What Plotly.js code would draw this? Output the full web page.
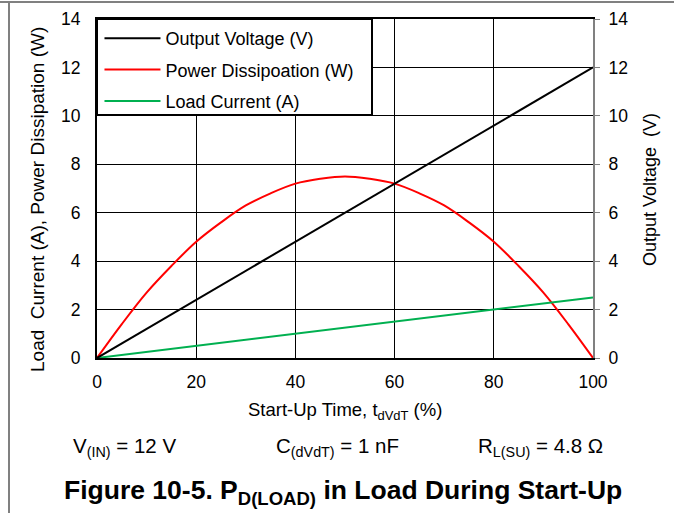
<!DOCTYPE html>
<html><head><meta charset="utf-8">
<script src="https://cdn.plot.ly/plotly-3.0.1.min.js"></script>
<style>html,body{margin:0;padding:0;background:#fff}#chart{width:674px;height:513px}</style>
</head><body><div id="chart"></div>
<script>
// Data
const timePct = [0,10,20,30,40,50,60,70,80,90,100];
const outputVoltage = [0,1.2,2.4,3.6,4.8,6.0,7.2,8.4,9.6,10.8,12.0];
const powerTime = [0,5,10,15,20,25,30,35,40,45,50,55,60,65,70,75,80,85,90,95,100];
const powerDiss = [0,1.4,2.7,3.8,4.8,5.6,6.3,6.8,7.2,7.4,7.5,7.4,7.2,6.8,6.3,5.6,4.8,3.8,2.7,1.4,0];
const currentTime = [0,20,40,60,80,100];
const loadCurrent = [0,0.5,1.0,1.5,2.0,2.5];
const seriesNames = ["Output Voltage (V)","Power Dissipoation (W)","Load Current (A)"];
const yTicks = [0,2,4,6,8,10,12,14];
const xTicks = [0,20,40,60,80,100];

const FONT = "Liberation Sans, Arial, sans-serif";
const traces = [
  {x: timePct, y: outputVoltage, name: seriesNames[0], yaxis: "y2", mode: "lines",
   line: {color: "#000000", width: 2}, legendgroup: "a"},
  {x: powerTime, y: powerDiss, name: seriesNames[1], mode: "lines",
   line: {color: "#ff0000", width: 2, shape: "spline"}, legendgroup: "b"},
  {x: currentTime, y: loadCurrent, name: seriesNames[2], mode: "lines",
   line: {color: "#00b050", width: 2}, legendgroup: "c"}
];

const px = v => (v - 97) / 496;
const py = v => (358 - v) / 339;
const ann = (text, x, y, size, extra) => Object.assign({
  text: text, xref: "paper", yref: "paper", x: px(x), y: py(y),
  xanchor: "center", yanchor: "middle", showarrow: false, font: {size: size}
}, extra || {});

const layout = {
  width: 674, height: 513,
  margin: {l: 97, r: 81, t: 19, b: 155},
  paper_bgcolor: "#fff", plot_bgcolor: "#fff",
  font: {family: FONT, size: 17, color: "#000"},
  showlegend: true,
  legend: {x: 0.005, y: 0.997, xanchor: "left", yanchor: "top",
    bgcolor: "rgba(0,0,0,0)", borderwidth: 0, font: {size: 18, family: FONT},
    traceorder: "grouped", tracegroupgap: 5, itemwidth: 56},
  xaxis: {range: [0,100], tickvals: xTicks, showgrid: true, gridcolor: "#000", gridwidth: 1,
    showline: true, linecolor: "#000", linewidth: 2, mirror: true, ticks: "",
    zeroline: false, tickfont: {size: 17.5}, ticklabelstandoff: 7},
  yaxis: {range: [0,14], tickvals: yTicks, showgrid: true, gridcolor: "#000", gridwidth: 1,
    showline: true, linecolor: "#000", linewidth: 2, ticks: "", zeroline: false,
    tickfont: {size: 17.5}, ticklabelstandoff: 11},
  yaxis2: {range: [0,14], tickvals: yTicks, overlaying: "y", side: "right", showgrid: false,
    showline: true, linecolor: "#808080", linewidth: 2, ticks: "outside", ticklen: 5,
    tickcolor: "#808080", tickwidth: 1, zeroline: false, tickfont: {size: 17.5}, ticklabelstandoff: 5},
  shapes: [
    {type: "rect", xref: "paper", yref: "paper", x0: 0, x1: px(372), y0: py(115), y1: 1,
     fillcolor: "#fff", line: {color: "#000", width: 2}, layer: "above"},
    {type: "line", xref: "paper", yref: "paper", x0: px(0), x1: px(674), y0: py(2), y1: py(2),
     line: {color: "#808080", width: 2}},
    {type: "line", xref: "paper", yref: "paper", x0: px(9), x1: px(9), y0: py(513), y1: py(2),
     line: {color: "#808080", width: 2}}
  ],
  annotations: [
    ann("Start-Up Time, t<sub>dVdT</sub> (%)", 345, 411, 18.5),
    ann("Load  Current (A), Power Dissipation (W)", 37, 200, 19, {textangle: -90}),
    ann("Output Voltage  (V)", 650, 190, 18, {textangle: -90}),
    ann("V<sub>(IN)</sub> = 12 V", 124, 447, 20.5),
    ann("C<sub>(dVdT)</sub> = 1 nF", 337, 447, 20.5),
    ann("R<sub>L(SU)</sub> = 4.8 Ω", 540, 447, 20.5),
    ann("<b>Figure 10-5. P<sub>D(LOAD)</sub> in Load During Start-Up</b>", 343, 492, 26.5)
  ]
};
Plotly.newPlot("chart", traces, layout, {displayModeBar: false, staticPlot: true});
</script></body></html>
